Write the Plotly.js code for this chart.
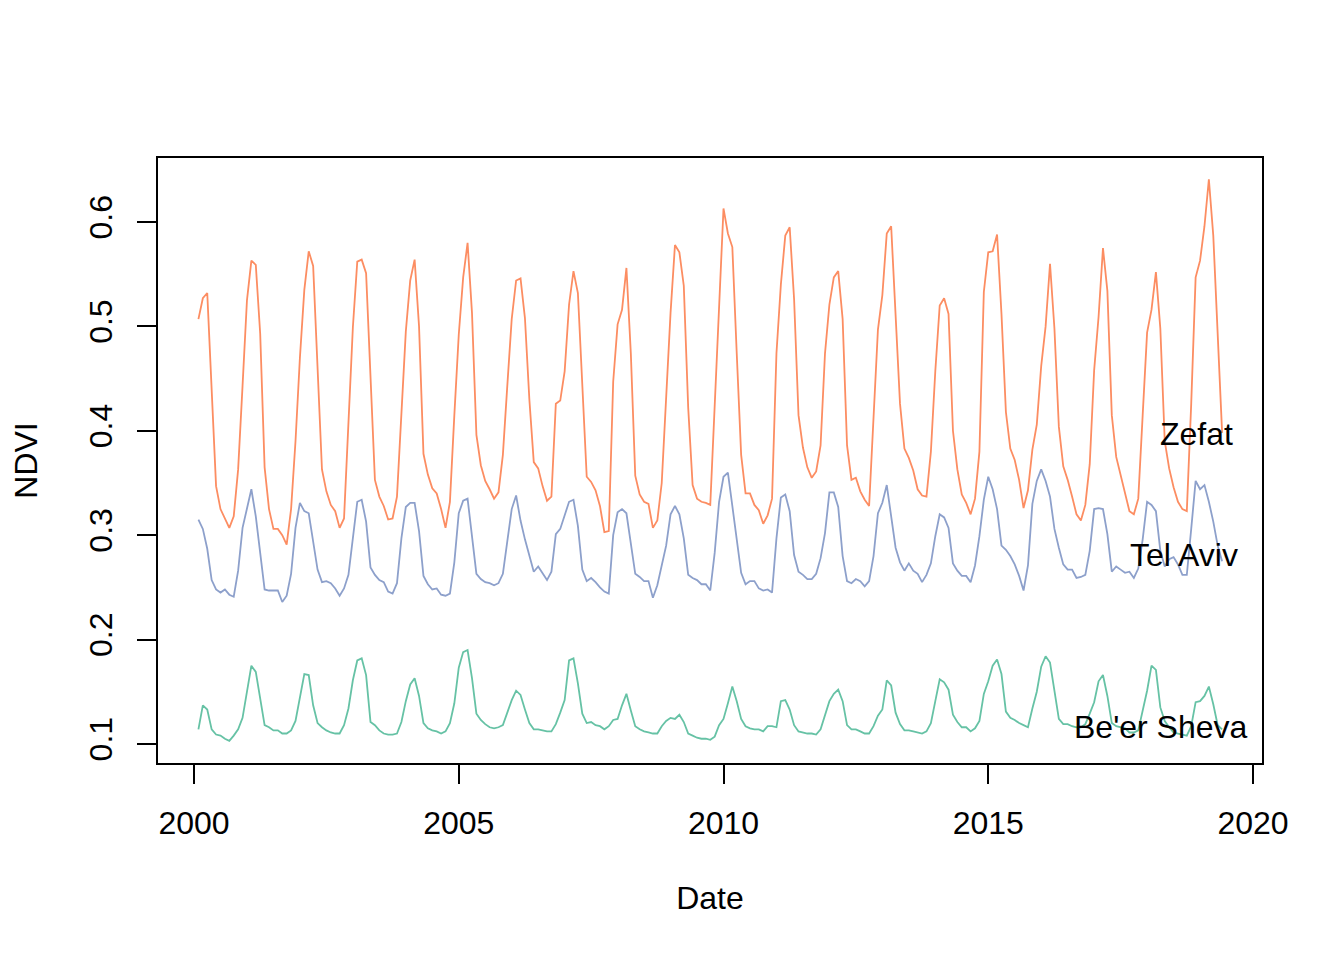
<!DOCTYPE html>
<html>
<head>
<meta charset="utf-8">
<script src="https://cdn.plot.ly/plotly-3.0.1.min.js"></script>
<style>
  html, body { margin: 0; padding: 0; background: #ffffff; }
  #chart { width: 1344px; height: 960px; }
</style>
</head>
<body>
<div id="chart"></div>
<script>
// Monthly NDVI series, February 2000 to June 2019
const startYear = 2000;
const startMonth = 2;

const zefat = [
  0.507, 0.527, 0.532, 0.440, 0.347, 0.325, 0.316, 0.307, 0.318, 0.363, 0.443,
  0.525, 0.563, 0.559, 0.493, 0.365, 0.325, 0.306, 0.306, 0.300, 0.291, 0.325, 0.390,
  0.470, 0.535, 0.572, 0.558, 0.460, 0.363, 0.342, 0.329, 0.323, 0.307, 0.316, 0.408,
  0.499, 0.562, 0.564, 0.551, 0.450, 0.353, 0.337, 0.328, 0.315, 0.316, 0.337, 0.415,
  0.495, 0.544, 0.564, 0.500, 0.378, 0.358, 0.345, 0.340, 0.325, 0.307, 0.332, 0.415,
  0.492, 0.547, 0.580, 0.513, 0.396, 0.367, 0.352, 0.344, 0.335, 0.341, 0.377, 0.443,
  0.507, 0.544, 0.546, 0.508, 0.430, 0.370, 0.364, 0.347, 0.333, 0.337, 0.426, 0.429,
  0.457, 0.521, 0.553, 0.532, 0.443, 0.356, 0.351, 0.343, 0.328, 0.303, 0.304, 0.447,
  0.502, 0.516, 0.556, 0.474, 0.357, 0.339, 0.332, 0.330, 0.307, 0.314, 0.350, 0.436,
  0.513, 0.578, 0.571, 0.539, 0.422, 0.348, 0.335, 0.332, 0.331, 0.329, 0.420, 0.510,
  0.613, 0.589, 0.576, 0.474, 0.377, 0.340, 0.340, 0.329, 0.324, 0.311, 0.319, 0.335,
  0.474, 0.540, 0.587, 0.595, 0.526, 0.415, 0.384, 0.365, 0.355, 0.361, 0.386, 0.474,
  0.521, 0.547, 0.553, 0.507, 0.386, 0.353, 0.355, 0.342, 0.334, 0.328, 0.415, 0.497,
  0.530, 0.589, 0.596, 0.516, 0.426, 0.383, 0.374, 0.362, 0.344, 0.338, 0.337, 0.380,
  0.457, 0.520, 0.527, 0.512, 0.400, 0.363, 0.339, 0.331, 0.320, 0.335, 0.380, 0.533,
  0.571, 0.572, 0.588, 0.512, 0.418, 0.383, 0.372, 0.353, 0.326, 0.343, 0.382, 0.406,
  0.462, 0.500, 0.560, 0.498, 0.404, 0.366, 0.353, 0.337, 0.320, 0.314, 0.329, 0.368,
  0.458, 0.509, 0.575, 0.534, 0.415, 0.375, 0.358, 0.339, 0.323, 0.320, 0.335, 0.415,
  0.494, 0.516, 0.552, 0.498, 0.390, 0.364, 0.346, 0.332, 0.325, 0.323, 0.426, 0.547,
  0.563, 0.596, 0.641, 0.587, 0.490, 0.398
];

const telAviv = [
  0.315, 0.306, 0.287, 0.257, 0.248, 0.245, 0.248, 0.243, 0.241, 0.266, 0.307,
  0.327, 0.344, 0.318, 0.283, 0.248, 0.247, 0.247, 0.247, 0.236, 0.242, 0.263, 0.307,
  0.331, 0.323, 0.321, 0.294, 0.267, 0.255, 0.256, 0.254, 0.249, 0.242, 0.249, 0.262,
  0.300, 0.332, 0.334, 0.313, 0.269, 0.262, 0.257, 0.255, 0.246, 0.244, 0.254, 0.297,
  0.327, 0.331, 0.331, 0.304, 0.261, 0.253, 0.248, 0.249, 0.243, 0.242, 0.244, 0.274,
  0.321, 0.333, 0.335, 0.299, 0.263, 0.258, 0.255, 0.254, 0.252, 0.254, 0.263, 0.294,
  0.325, 0.338, 0.314, 0.296, 0.280, 0.265, 0.270, 0.263, 0.257, 0.265, 0.301, 0.306,
  0.318, 0.332, 0.334, 0.309, 0.267, 0.256, 0.259, 0.255, 0.250, 0.246, 0.244, 0.300,
  0.322, 0.325, 0.321, 0.292, 0.263, 0.260, 0.256, 0.256, 0.240, 0.252, 0.271, 0.290,
  0.320, 0.328, 0.320, 0.297, 0.262, 0.259, 0.257, 0.253, 0.253, 0.247, 0.283, 0.332,
  0.356, 0.360, 0.328, 0.294, 0.264, 0.253, 0.256, 0.256, 0.249, 0.247, 0.248, 0.245,
  0.297, 0.336, 0.339, 0.323, 0.281, 0.265, 0.262, 0.258, 0.258, 0.263, 0.278, 0.302,
  0.341, 0.341, 0.327, 0.280, 0.256, 0.254, 0.258, 0.256, 0.251, 0.256, 0.280, 0.321,
  0.331, 0.348, 0.318, 0.288, 0.274, 0.266, 0.273, 0.266, 0.263, 0.255, 0.262, 0.273,
  0.299, 0.320, 0.317, 0.307, 0.273, 0.266, 0.261, 0.261, 0.255, 0.271, 0.299, 0.334,
  0.356, 0.344, 0.325, 0.290, 0.286, 0.280, 0.272, 0.261, 0.247, 0.271, 0.330, 0.352,
  0.363, 0.352, 0.337, 0.306, 0.288, 0.272, 0.267, 0.267, 0.259, 0.260, 0.262, 0.285,
  0.325, 0.326, 0.325, 0.301, 0.265, 0.270, 0.267, 0.264, 0.265, 0.259, 0.268, 0.296,
  0.332, 0.329, 0.323, 0.285, 0.270, 0.277, 0.279, 0.272, 0.262, 0.262, 0.306, 0.352,
  0.344, 0.348, 0.332, 0.313, 0.290, 0.275
];

const beerSheva = [
  0.114, 0.137, 0.133, 0.114, 0.109, 0.108, 0.105, 0.103, 0.108, 0.114, 0.125,
  0.151, 0.175, 0.169, 0.142, 0.118, 0.116, 0.113, 0.113, 0.110, 0.110, 0.113, 0.122,
  0.144, 0.167, 0.166, 0.137, 0.120, 0.116, 0.113, 0.111, 0.110, 0.110, 0.118, 0.134,
  0.161, 0.180, 0.182, 0.166, 0.121, 0.118, 0.113, 0.110, 0.109, 0.109, 0.110, 0.121,
  0.141, 0.157, 0.163, 0.146, 0.120, 0.115, 0.113, 0.112, 0.110, 0.112, 0.120, 0.139,
  0.173, 0.188, 0.190, 0.163, 0.129, 0.123, 0.119, 0.116, 0.115, 0.116, 0.118, 0.131,
  0.142, 0.151, 0.147, 0.133, 0.120, 0.114, 0.114, 0.113, 0.112, 0.112, 0.119, 0.130,
  0.142, 0.180, 0.182, 0.158, 0.129, 0.120, 0.121, 0.118, 0.117, 0.114, 0.117, 0.123,
  0.124, 0.137, 0.148, 0.132, 0.117, 0.114, 0.112, 0.111, 0.110, 0.110, 0.117, 0.122,
  0.125, 0.124, 0.128, 0.121, 0.110, 0.108, 0.106, 0.105, 0.105, 0.104, 0.107, 0.118,
  0.124, 0.139, 0.155, 0.141, 0.124, 0.117, 0.115, 0.114, 0.114, 0.112, 0.117, 0.117,
  0.116, 0.141, 0.142, 0.133, 0.118, 0.112, 0.111, 0.110, 0.110, 0.109, 0.114, 0.128,
  0.141, 0.148, 0.152, 0.141, 0.118, 0.114, 0.114, 0.112, 0.110, 0.110, 0.117, 0.127,
  0.133, 0.161, 0.156, 0.130, 0.119, 0.113, 0.113, 0.112, 0.111, 0.110, 0.112, 0.120,
  0.141, 0.162, 0.159, 0.152, 0.128, 0.121, 0.116, 0.116, 0.112, 0.115, 0.122, 0.148,
  0.160, 0.175, 0.181, 0.167, 0.131, 0.125, 0.123, 0.120, 0.118, 0.116, 0.134, 0.150,
  0.174, 0.184, 0.178, 0.151, 0.124, 0.119, 0.119, 0.117, 0.116, 0.116, 0.119, 0.129,
  0.140, 0.160, 0.166, 0.146, 0.120, 0.117, 0.116, 0.115, 0.111, 0.111, 0.113, 0.133,
  0.151, 0.175, 0.171, 0.135, 0.122, 0.116, 0.111, 0.110, 0.109, 0.108, 0.117, 0.140,
  0.141, 0.146, 0.155, 0.138, 0.118, 0.114
];

const seriesNames = ["Zefat", "Tel Aviv", "Be'er Sheva"];
const seriesColors = ["#FC8D62", "#8DA0CB", "#66C2A5"];
const xTickValues = [2000, 2005, 2010, 2015, 2020];
const xTickLabels = ["2000", "2005", "2010", "2015", "2020"];
const yTickValues = [0.1, 0.2, 0.3, 0.4, 0.5, 0.6];
const yTickLabels = ["0.1", "0.2", "0.3", "0.4", "0.5", "0.6"];
const labelX = [2018.94, 2018.7, 2018.26];
const labelY = [0.397, 0.281, 0.116];

function timeAxis(n) {
  const t = [];
  for (let i = 0; i < n; i++) t.push(startYear + (startMonth - 1 + i) / 12);
  return t;
}

const allSeries = [zefat, telAviv, beerSheva];
const traces = allSeries.map((vals, i) => ({
  type: "scatter",
  mode: "lines",
  name: seriesNames[i],
  x: timeAxis(vals.length),
  y: vals,
  line: { color: seriesColors[i], width: 1.8 },
  hoverinfo: "x+y+name"
}));

const FONT = "Liberation Sans, Arial, Helvetica, sans-serif";

const layout = {
  width: 1344,
  height: 960,
  margin: { l: 157, r: 81, t: 157, b: 196, pad: 0 },
  paper_bgcolor: "#ffffff",
  plot_bgcolor: "#ffffff",
  showlegend: false,
  font: { family: FONT, size: 32, color: "#000000" },
  xaxis: {
    range: [1999.301, 2020.189],
    tickmode: "array",
    tickvals: xTickValues,
    ticktext: xTickLabels,
    ticks: "outside",
    ticklen: 19,
    tickwidth: 2,
    tickcolor: "#000000",
    ticklabelstandoff: 12,
    tickfont: { family: FONT, size: 32, color: "#000000" },
    showgrid: false,
    zeroline: false,
    showline: false,
    title: { text: "Date", font: { family: FONT, size: 32, color: "#000000" }, standoff: 46 }
  },
  yaxis: {
    range: [0.0808, 0.6623],
    tickmode: "array",
    tickvals: yTickValues,
    ticktext: yTickLabels,
    tickangle: -90,
    ticks: "outside",
    ticklen: 19,
    tickwidth: 2,
    tickcolor: "#000000",
    ticklabelstandoff: 12,
    tickfont: { family: FONT, size: 32, color: "#000000" },
    showgrid: false,
    zeroline: false,
    showline: false,
    title: { text: "NDVI", font: { family: FONT, size: 32, color: "#000000" }, standoff: 36 }
  },
  shapes: [{
    type: "rect", xref: "paper", yref: "paper",
    x0: 0, x1: 1, y0: 0, y1: 1,
    line: { color: "#000000", width: 2 },
    fillcolor: "rgba(0,0,0,0)"
  }],
  annotations: seriesNames.map((name, i) => ({
    x: labelX[i], y: labelY[i], xref: "x", yref: "y",
    text: name, showarrow: false,
    xanchor: "center", yanchor: "middle",
    font: { family: FONT, size: 32, color: "#000000" }
  }))
};

Plotly.newPlot("chart", traces, layout, { staticPlot: true, displayModeBar: false });
</script>
</body>
</html>
